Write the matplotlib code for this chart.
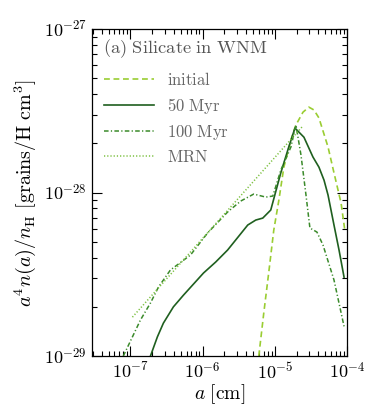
import numpy as np
import matplotlib
matplotlib.use('Agg')
import matplotlib.pyplot as plt
from matplotlib.ticker import LogLocator, NullFormatter, FixedLocator, FixedFormatter

plt.rcParams['mathtext.fontset'] = 'cm'
plt.rcParams['font.family'] = ['DejaVu Serif']

# grain radius [cm] and a^4 n(a)/n_H [grains/H cm^3]
a_init = [6.0e-6, 7.03e-6, 8.26e-6, 9.68e-6, 1.138e-5, 1.334e-5, 1.667e-5, 1.96e-5,
          2.45e-5, 2.96e-5, 3.48e-5, 4.08e-5, 5.45e-5, 6.59e-5, 8.26e-5, 9.38e-5]
y_init = [1.0e-29, 1.83e-29, 3.27e-29, 5.90e-29, 8.99e-29, 1.43e-28, 2.09e-28, 2.59e-28,
          3.10e-28, 3.33e-28, 3.20e-28, 2.86e-28, 1.90e-28, 1.32e-28, 8.63e-29, 5.73e-29]

a_50 = [1.90e-7, 2.37e-7, 2.87e-7, 3.95e-7, 5.45e-7, 1.03e-6, 1.52e-6, 2.22e-6, 4.22e-6,
        5.45e-6, 6.81e-6, 8.79e-6, 1.21e-5, 1.56e-5, 1.90e-5, 2.53e-5, 3.37e-5, 4.08e-5,
        4.80e-5, 5.45e-5, 6.59e-5, 7.74e-5, 9.08e-5]
y_50 = [1.0e-29, 1.31e-29, 1.59e-29, 2.0e-29, 2.36e-29, 3.22e-29, 3.76e-29, 4.45e-29, 6.33e-29,
        6.79e-29, 6.98e-29, 7.82e-29, 1.32e-28, 1.90e-28, 2.48e-28, 2.18e-28, 1.65e-28, 1.43e-28,
        1.19e-28, 9.66e-29, 6.33e-29, 4.45e-29, 3.04e-29]

a_100 = [8.0e-8, 1.07e-7, 1.38e-7, 1.90e-7, 2.45e-7, 3.59e-7, 6.81e-7, 1.17e-6, 2.22e-6,
         3.37e-6, 5.11e-6, 7.50e-6, 9.38e-6, 1.21e-5, 1.67e-5, 1.96e-5, 2.30e-5, 2.70e-5,
         3.06e-5, 3.83e-5, 4.64e-5, 6.59e-5, 9.08e-5]
y_100 = [1.0e-29, 1.31e-29, 1.66e-29, 2.11e-29, 2.64e-29, 3.36e-29, 4.15e-29, 5.65e-29, 7.60e-29,
         8.87e-29, 9.79e-29, 9.38e-29, 9.52e-29, 1.37e-28, 1.90e-28, 2.59e-28, 1.70e-28, 9.66e-29,
         6.07e-29, 5.73e-29, 4.78e-29, 2.92e-29, 1.52e-29]

a_mrn = [1.07e-7, 2.4e-5]
y_mrn = [1.73e-29, 2.53e-28]

xticks = [1e-7, 1e-6, 1e-5, 1e-4]
xticklabels = [r'$10^{-7}$', r'$10^{-6}$', r'$10^{-5}$', r'$10^{-4}$']
yticks = [1e-29, 1e-28, 1e-27]
yticklabels = [r'$10^{-29}$', r'$10^{-28}$', r'$10^{-27}$']

fig = plt.figure(figsize=(3.74, 4.15), dpi=100)
ax = fig.add_axes([0.246, 0.142, 0.682, 0.788])

ax.plot(a_init, y_init, color='#9acd32', lw=1.2, dashes=(3.5, 2.2), label=r'$\mathrm{initial}$')
ax.plot(a_50, y_50, color='#1f5f1f', lw=1.2, label=r'$\mathrm{50\ Myr}$')
ax.plot(a_100, y_100, color='#3a8a2a', lw=1.1, dashes=(3, 1.5, 0.8, 1.5),
        label=r'$\mathrm{100\ Myr}$')
ax.plot(a_mrn, y_mrn, color='#7cc040', lw=1.1, dashes=(0.8, 1.3), label=r'$\mathrm{MRN}$')

ax.set_xscale('log')
ax.set_yscale('log')
ax.set_xlim(10**-7.53, 1e-4)
ax.set_ylim(1e-29, 1e-27)

ax.xaxis.set_major_locator(FixedLocator(xticks))
ax.xaxis.set_major_formatter(FixedFormatter(xticklabels))
ax.yaxis.set_major_locator(FixedLocator(yticks))
ax.yaxis.set_major_formatter(FixedFormatter(yticklabels))
ax.xaxis.set_minor_locator(LogLocator(base=10, subs=np.arange(2, 10), numticks=20))
ax.yaxis.set_minor_locator(LogLocator(base=10, subs=np.arange(2, 10), numticks=20))
ax.xaxis.set_minor_formatter(NullFormatter())
ax.yaxis.set_minor_formatter(NullFormatter())
ax.tick_params(which='both', direction='in', top=True, right=True, width=0.8)
ax.tick_params(which='major', length=7, labelsize=13)
ax.tick_params(which='minor', length=3.5)
ax.tick_params(axis='x', which='major', pad=4)
for s in ax.spines.values():
    s.set_linewidth(0.9)

ax.set_xlabel(r'$a\ \mathrm{[cm]}$', fontsize=14, labelpad=0)
ax.set_ylabel(r'$a^4n(a)/n_\mathrm{H}\ \mathrm{[grains/H\ cm^3]}$', fontsize=14.5, labelpad=4)

ax.text(0.043, 0.94, r'$\mathrm{(a)\ Silicate\ in\ WNM}$', transform=ax.transAxes,
        fontsize=13.3, color='#555555', va='center', ha='left')
leg = ax.legend(loc='upper left', bbox_to_anchor=(0.0, 0.905), frameon=False, fontsize=12,
                handlelength=3.0, handletextpad=0.8, labelspacing=0.42, borderaxespad=0.3)
for t in leg.get_texts():
    t.set_color('#666666')

fig.savefig('out.png', dpi=100)
